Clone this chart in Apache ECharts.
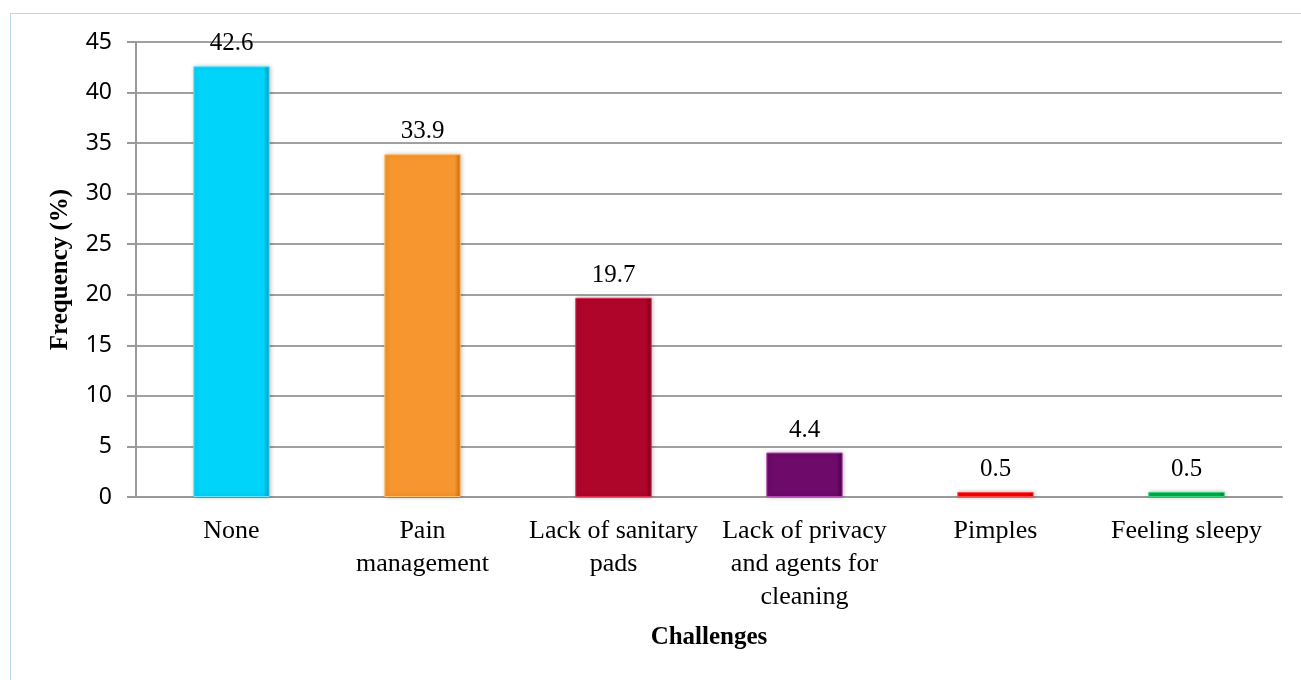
<!DOCTYPE html>
<html>
<head>
<meta charset="utf-8">
<script src="https://cdn.jsdelivr.net/npm/echarts@6/dist/echarts.min.js"></script>
<style>
  html, body { margin: 0; padding: 0; background: #fff; }
  #frame { position: absolute; left: 10px; top: 13px; width: 1300px; height: 680px; border: 1px solid #b7dde8; box-sizing: border-box; }
  #chart { position: absolute; left: 0; top: 0; width: 1301px; height: 680px; }
</style>
</head>
<body>
<div id="frame"></div>
<div id="chart"></div>
<script>
// challenges during menstruation
const categories = ['None', 'Pain\nmanagement', 'Lack of sanitary\npads', 'Lack of privacy\nand agents for\ncleaning', 'Pimples', 'Feeling sleepy']
const values = [42.6, 33.9, 19.7, 4.4, 0.5, 0.5]
const colors = [
  ['#5fe6ff', '#00d4fa', '#009cc0'],
  ['#ffc06a', '#f7962e', '#c76d12'],
  ['#d8304f', '#b0052a', '#7e001c'],
  ['#b44bb0', '#6d0a6a', '#4a0048'],
  ['#ff4a4a', '#ff0000', '#c00000'],
  ['#3ad078', '#00b050', '#008038']
]

const serif = '"Liberation Serif", "DejaVu Serif", serif'
const sans = '"Noto Sans", "Open Sans", sans-serif'

let myChart = echarts.init(document.getElementById('chart'))

const barData = values.map((v, i) => ({
  value: v,
  itemStyle: {
    color: new echarts.graphic.LinearGradient(0, 0, 1, 0, [
      { offset: 0, color: colors[i][1] },
      { offset: 0.08, color: colors[i][1] },
      { offset: 0.92, color: colors[i][1] },
      { offset: 1, color: colors[i][2] }
    ]),
    borderColor: colors[i][0],
    borderWidth: 1,
    shadowColor: 'rgba(0,0,0,0.25)',
    shadowBlur: 4,
    shadowOffsetX: 1
  }
}))

myChart.setOption({
  animation: false,
  grid: { left: 136, right: 19, top: 42, bottom: 183 },
  xAxis: {
    type: 'category',
    data: categories,
    name: 'Challenges',
    nameLocation: 'middle',
    nameGap: 128,
    nameTextStyle: { fontFamily: serif, fontWeight: 'bold', fontSize: 25, color: '#000' },
    axisLine: { lineStyle: { color: '#999', width: 2 } },
    axisTick: { show: false },
    axisLabel: { fontFamily: serif, fontSize: 26, color: '#000', lineHeight: 33, margin: 18, interval: 0 }
  },
  yAxis: {
    type: 'value',
    min: 0,
    max: 45,
    interval: 5,
    name: 'Frequency (%)',
    nameLocation: 'middle',
    nameGap: 63,
    nameTextStyle: { fontFamily: serif, fontWeight: 'bold', fontSize: 25, color: '#000' },
    axisLine: { show: true, lineStyle: { color: '#999', width: 2 } },
    axisTick: { show: true, length: 9, lineStyle: { color: '#999', width: 2 } },
    axisLabel: { fontFamily: sans, fontSize: 23, color: '#000', margin: 24 },
    splitLine: { lineStyle: { color: '#a0a0a0', width: 2 } }
  },
  series: [{
    type: 'bar',
    data: barData,
    barWidth: '40%',
    label: {
      show: true,
      position: 'top',
      distance: 10,
      fontFamily: serif,
      fontSize: 25,
      color: '#000'
    }
  }]
})
</script>
</body>
</html>
